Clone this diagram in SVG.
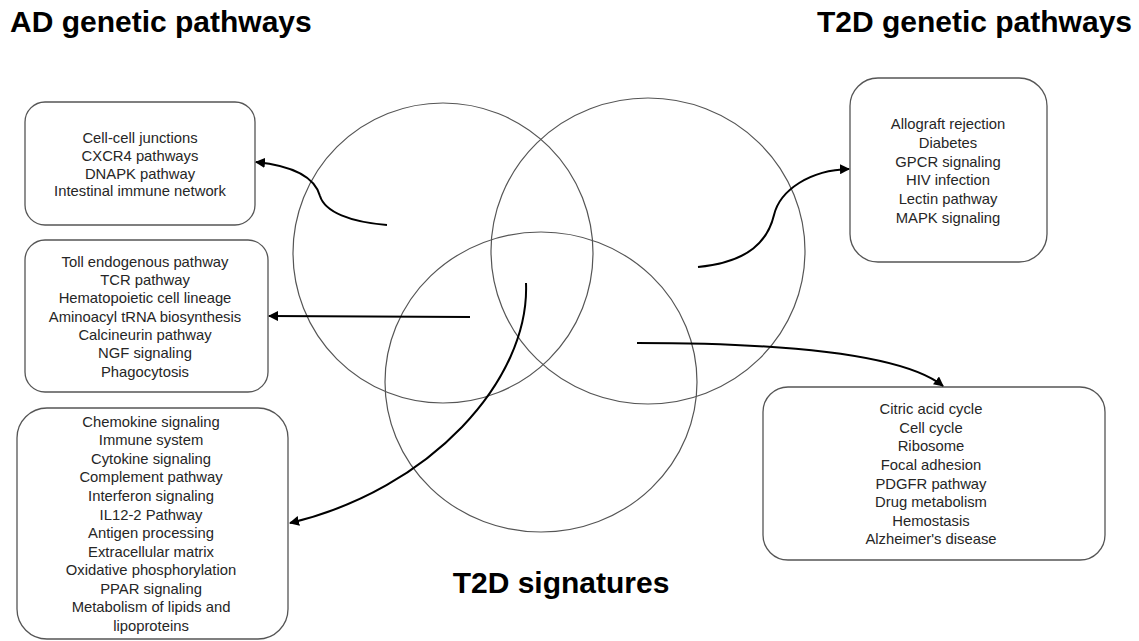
<svg xmlns="http://www.w3.org/2000/svg" width="1139" height="641" viewBox="0 0 1139 641">
<style>
.title{font-family:"Liberation Sans",Arial,sans-serif;font-weight:bold;font-size:30px;fill:#000}
.venn{fill:none;stroke:#555;stroke-width:1.2}
.box{fill:#fff;stroke:#555;stroke-width:1.3}
.lbl{font-family:"Liberation Sans",Arial,sans-serif;font-size:14.8px;fill:#262626;text-anchor:middle}
.conn{fill:none;stroke:#000;stroke-width:2;marker-end:url(#arr)}
</style>
<defs>
<marker id="arr" viewBox="0 0 10 10" refX="9" refY="5" markerWidth="5" markerHeight="5" orient="auto" markerUnits="strokeWidth">
<path d="M0,0 L10,5 L0,10 z" fill="#000"/>
</marker>
</defs>
<rect width="1139" height="641" fill="#fff"/>
<g id="titles">
<text class="title" x="10" y="32">AD genetic pathways</text>
<text class="title" x="1132" y="32" text-anchor="end">T2D genetic pathways</text>
<text class="title" x="561" y="593" text-anchor="middle">T2D signatures</text>
</g>
<g id="venn">
<ellipse id="circle-ad" class="venn" cx="443" cy="253" rx="150" ry="150"/>
<ellipse id="circle-t2d" class="venn" cx="648" cy="251" rx="157" ry="153"/>
<ellipse id="circle-sig" class="venn" cx="541" cy="382" rx="156" ry="150"/>
</g>
<g id="box-ad">
<rect class="box" x="25" y="102" width="230" height="123" rx="20"/>
<text class="lbl"><tspan x="140" y="143">Cell-cell junctions</tspan><tspan x="140" y="161">CXCR4 pathways</tspan><tspan x="140" y="178.5">DNAPK pathway</tspan><tspan x="140" y="196">Intestinal immune network</tspan></text>
</g>
<g id="box-ad-t2d">
<rect class="box" x="25" y="240" width="243" height="152" rx="20"/>
<text class="lbl"><tspan x="145" y="266.7">Toll endogenous pathway</tspan><tspan x="145" y="285">TCR pathway</tspan><tspan x="145" y="303.4">Hematopoietic cell lineage</tspan><tspan x="145" y="321.7">Aminoacyl tRNA biosynthesis</tspan><tspan x="145" y="340">Calcineurin pathway</tspan><tspan x="145" y="358.4">NGF signaling</tspan><tspan x="145" y="376.7">Phagocytosis</tspan></text>
</g>
<g id="box-all">
<rect class="box" x="17" y="408" width="271" height="231" rx="30"/>
<text class="lbl"><tspan x="151" y="426.7">Chemokine signaling</tspan><tspan x="151" y="445.3">Immune system</tspan><tspan x="151" y="463.8">Cytokine signaling</tspan><tspan x="151" y="482.4">Complement pathway</tspan><tspan x="151" y="501">Interferon signaling</tspan><tspan x="151" y="519.5">IL12-2 Pathway</tspan><tspan x="151" y="538.1">Antigen processing</tspan><tspan x="151" y="556.7">Extracellular matrix</tspan><tspan x="151" y="575.3">Oxidative phosphorylation</tspan><tspan x="151" y="593.8">PPAR signaling</tspan><tspan x="151" y="612.4">Metabolism of lipids and</tspan><tspan x="151" y="631">lipoproteins</tspan></text>
</g>
<g id="box-t2d">
<rect class="box" x="850" y="78" width="197" height="184" rx="28"/>
<text class="lbl"><tspan x="948" y="129.3">Allograft rejection</tspan><tspan x="948" y="148">Diabetes</tspan><tspan x="948" y="166.6">GPCR signaling</tspan><tspan x="948" y="185.3">HIV infection</tspan><tspan x="948" y="204">Lectin pathway</tspan><tspan x="948" y="222.7">MAPK signaling</tspan></text>
</g>
<g id="box-t2d-sig">
<rect class="box" x="763" y="387" width="342" height="173" rx="25"/>
<text class="lbl"><tspan x="931" y="414">Citric acid cycle</tspan><tspan x="931" y="432.6">Cell cycle</tspan><tspan x="931" y="451.2">Ribosome</tspan><tspan x="931" y="469.8">Focal adhesion</tspan><tspan x="931" y="488.5">PDGFR pathway</tspan><tspan x="931" y="507.1">Drug metabolism</tspan><tspan x="931" y="525.7">Hemostasis</tspan><tspan x="931" y="544.3">Alzheimer's disease</tspan></text>
</g>
<g id="connectors">
<path class="conn" d="M387,225 C350,222 325,212 320,196 C315,178 295,166 256,162"/>
<path class="conn" d="M470,317 L269,316"/>
<path class="conn" d="M526,283 C530,380 430,490 290,523"/>
<path class="conn" d="M698,267 C750,262 768,240 774,215 C780,190 810,170 849,169"/>
<path class="conn" d="M637,343 C770,343 900,352 943,386"/>
</g>
</svg>
